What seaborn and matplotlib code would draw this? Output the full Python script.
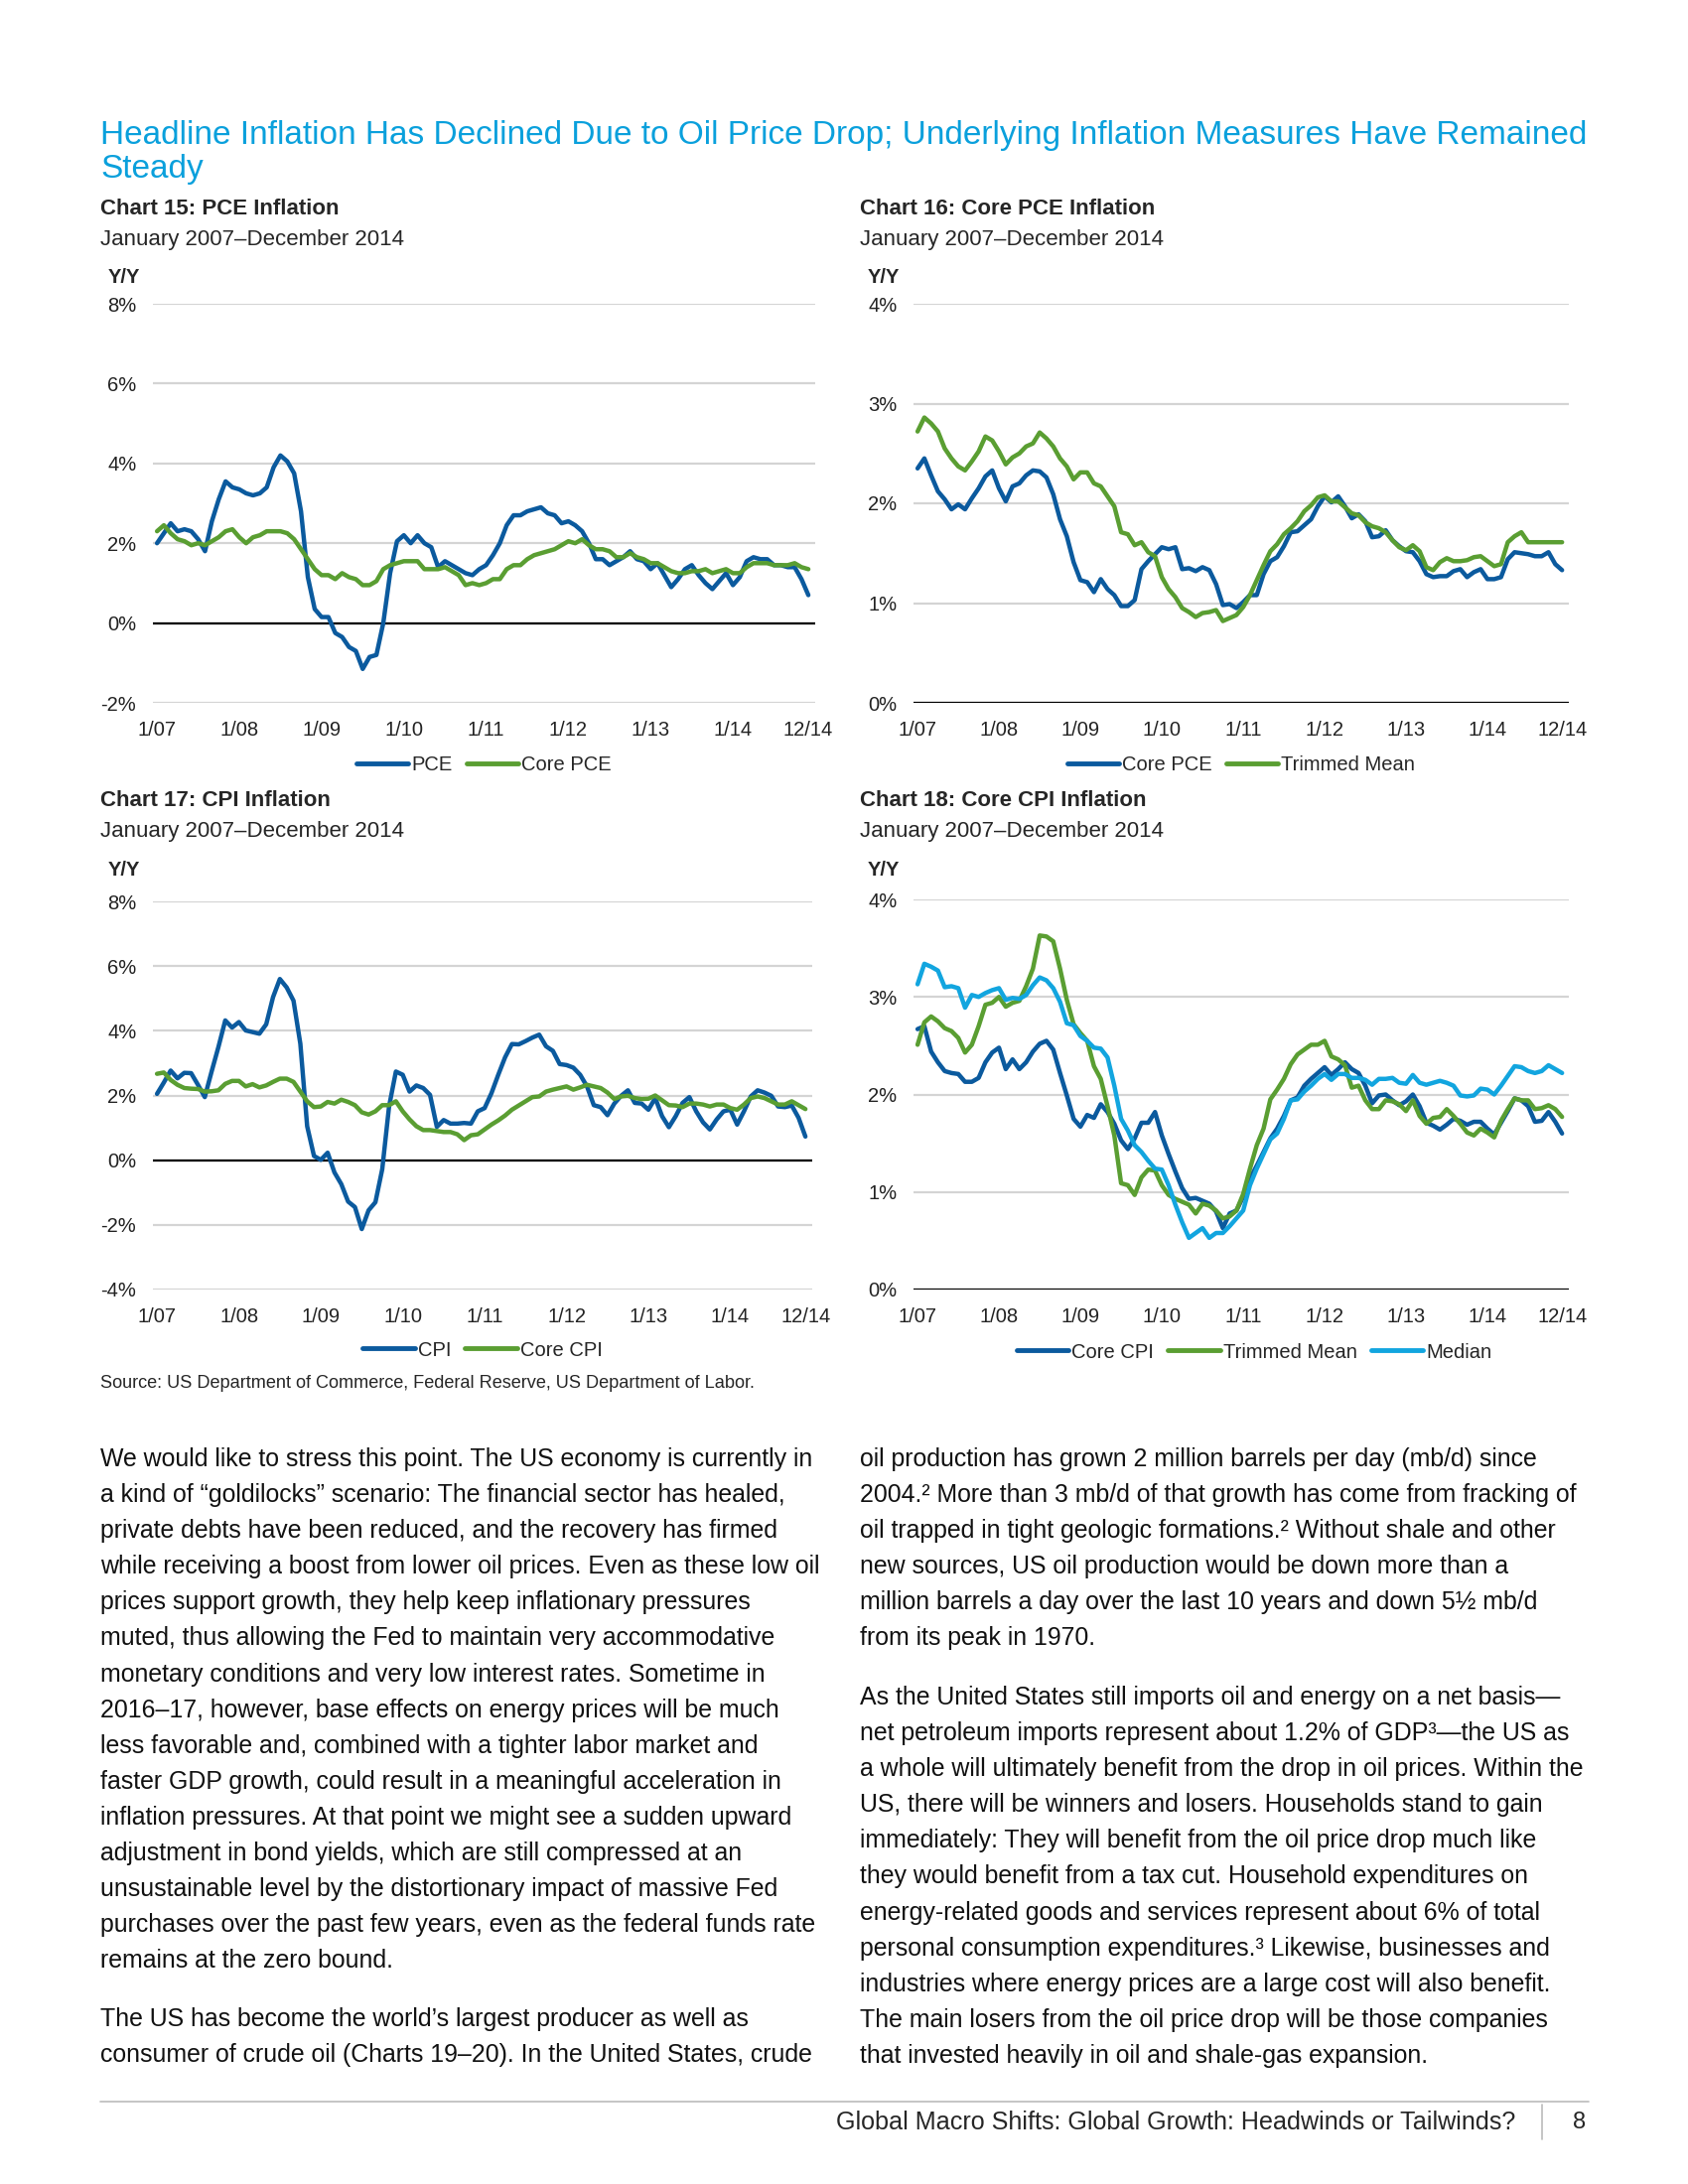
import numpy as np
import pandas as pd
import matplotlib.pyplot as plt
import seaborn as sns
from matplotlib import font_manager

sns.set_style("white")

installed = {f.name for f in font_manager.fontManager.ttflist}
NARROW = "Liberation Sans Narrow" if "Liberation Sans Narrow" in installed else "Liberation Sans"
plt.rcParams["font.family"] = ["Liberation Sans", "DejaVu Sans"]

W, H = 1700, 2200

DARK = "#0b5a9e"
GREEN = "#5a9e32"
LIGHT = "#12a5df"
TITLE_BLUE = "#0aa0dc"

months = np.arange(96)
x_ticks = [0, 12, 24, 36, 48, 60, 72, 84, 95]
x_labels = ["1/07", "1/08", "1/09", "1/10", "1/11", "1/12", "1/13", "1/14", "12/14"]

# Chart 15
pce = [2.0, 2.25, 2.5, 2.3, 2.35, 2.3, 2.1, 1.8, 2.55, 3.1, 3.55, 3.4,
       3.35, 3.25, 3.2, 3.25, 3.4, 3.9, 4.2, 4.05, 3.75, 2.8, 1.15, 0.35,
       0.15, 0.15, -0.25, -0.35, -0.6, -0.7, -1.15, -0.85, -0.8, 0.0, 1.25, 2.05,
       2.2, 2.0, 2.2, 2.0, 1.9, 1.4, 1.55, 1.45, 1.35, 1.25, 1.2, 1.35,
       1.45, 1.7, 2.0, 2.45, 2.7, 2.7, 2.8, 2.85, 2.9, 2.75, 2.7, 2.5,
       2.55, 2.45, 2.3, 2.0, 1.6, 1.6, 1.45, 1.55, 1.65, 1.8, 1.6, 1.55,
       1.35, 1.5, 1.2, 0.9, 1.1, 1.35, 1.45, 1.2, 1.0, 0.85, 1.05, 1.25,
       0.95, 1.15, 1.55, 1.65, 1.6, 1.6, 1.45, 1.45, 1.4, 1.4, 1.1, 0.7]
core_pce = [2.3, 2.45, 2.25, 2.1, 2.05, 1.95, 2.0, 1.95, 2.05, 2.15, 2.3, 2.35,
            2.15, 2.0, 2.15, 2.2, 2.3, 2.3, 2.3, 2.25, 2.1, 1.85, 1.6, 1.35,
            1.2, 1.2, 1.1, 1.25, 1.15, 1.1, 0.95, 0.95, 1.05, 1.35, 1.45, 1.5,
            1.55, 1.55, 1.55, 1.35, 1.35, 1.35, 1.4, 1.3, 1.2, 0.95, 1.0, 0.95,
            1.0, 1.1, 1.1, 1.35, 1.45, 1.45, 1.6, 1.7, 1.75, 1.8, 1.85, 1.95,
            2.05, 2.0, 2.1, 1.95, 1.85, 1.85, 1.8, 1.65, 1.65, 1.75, 1.65, 1.6,
            1.5, 1.5, 1.4, 1.3, 1.25, 1.25, 1.3, 1.3, 1.35, 1.25, 1.3, 1.35,
            1.25, 1.25, 1.4, 1.5, 1.5, 1.5, 1.45, 1.45, 1.45, 1.5, 1.4, 1.35]

# Chart 16
core_pce_16 = [2.35, 2.45, 2.28, 2.12, 2.04, 1.94, 1.99, 1.94, 2.05, 2.15, 2.27, 2.33,
               2.15, 2.02, 2.17, 2.2, 2.28, 2.33, 2.32, 2.26, 2.09, 1.84, 1.67, 1.41,
               1.23, 1.21, 1.11, 1.24, 1.14, 1.08, 0.97, 0.97, 1.03, 1.34, 1.42, 1.49,
               1.56, 1.54, 1.56, 1.34, 1.35, 1.32, 1.36, 1.33, 1.19, 0.98, 0.99, 0.95,
               1.01, 1.08, 1.08, 1.29, 1.42, 1.46, 1.57, 1.71, 1.72, 1.78, 1.84, 1.97,
               2.07, 2.01, 2.07, 1.97, 1.85, 1.89, 1.82, 1.66, 1.67, 1.73, 1.63, 1.57,
               1.52, 1.51, 1.42, 1.29, 1.26, 1.27, 1.27, 1.32, 1.34, 1.26, 1.31, 1.34,
               1.24, 1.24, 1.26, 1.44, 1.51, 1.5, 1.49, 1.47, 1.47, 1.51, 1.39, 1.33]
trimmed_pce = [2.72, 2.86, 2.8, 2.72, 2.55, 2.45, 2.37, 2.33, 2.42, 2.52, 2.67, 2.63,
               2.52, 2.39, 2.46, 2.5, 2.57, 2.6, 2.71, 2.65, 2.57, 2.45, 2.37, 2.24,
               2.31, 2.31, 2.2, 2.17, 2.07, 1.97, 1.71, 1.69, 1.58, 1.61, 1.51, 1.47,
               1.26, 1.14, 1.06, 0.95, 0.91, 0.86, 0.9, 0.91, 0.93, 0.82, 0.85, 0.88,
               0.96, 1.08, 1.23, 1.38, 1.52, 1.59, 1.69, 1.75, 1.82, 1.92, 1.98, 2.06,
               2.08, 2.02, 2.02, 1.96, 1.9, 1.88, 1.81, 1.77, 1.75, 1.71, 1.63, 1.56,
               1.53, 1.58, 1.52, 1.36, 1.33, 1.41, 1.45, 1.42, 1.42, 1.43, 1.46, 1.47,
               1.42, 1.37, 1.39, 1.61, 1.67, 1.71, 1.61, 1.61, 1.61, 1.61, 1.61, 1.61]

# Chart 17
cpi = [2.05, 2.4, 2.77, 2.53, 2.7, 2.69, 2.33, 1.95, 2.74, 3.5, 4.32, 4.1,
       4.27, 4.01, 3.96, 3.91, 4.2, 5.04, 5.6, 5.34, 4.93, 3.6, 1.05, 0.13,
       0.01, 0.23, -0.38, -0.74, -1.28, -1.45, -2.13, -1.55, -1.3, -0.28, 1.66, 2.74,
       2.64, 2.12, 2.31, 2.23, 2.02, 1.03, 1.24, 1.13, 1.13, 1.15, 1.13, 1.51,
       1.61, 2.07, 2.64, 3.18, 3.59, 3.58, 3.68, 3.79, 3.88, 3.52, 3.38, 2.97,
       2.94, 2.86, 2.64, 2.28, 1.7, 1.64, 1.39, 1.75, 1.99, 2.16, 1.77, 1.75,
       1.56, 1.92, 1.36, 1.02, 1.36, 1.77, 1.95, 1.51, 1.17, 0.95, 1.26, 1.51,
       1.56, 1.1, 1.51, 1.97, 2.16, 2.09, 1.99, 1.66, 1.64, 1.69, 1.31, 0.73]
core_cpi = [2.67, 2.71, 2.48, 2.33, 2.23, 2.21, 2.2, 2.12, 2.13, 2.16, 2.36, 2.45,
            2.45, 2.28, 2.35, 2.25, 2.31, 2.42, 2.52, 2.52, 2.42, 2.12, 1.82, 1.64,
            1.66, 1.8, 1.75, 1.87, 1.8, 1.7, 1.48, 1.41, 1.51, 1.7, 1.7, 1.82,
            1.51, 1.26, 1.05, 0.93, 0.93, 0.9, 0.87, 0.87, 0.8, 0.62, 0.77, 0.8,
            0.95, 1.1, 1.23, 1.38, 1.56, 1.69, 1.82, 1.95, 1.97, 2.12, 2.18, 2.23,
            2.28, 2.18, 2.25, 2.33, 2.28, 2.23, 2.09, 1.89, 1.97, 1.99, 1.92, 1.89,
            1.9, 2.0, 1.85, 1.7, 1.69, 1.64, 1.75, 1.75, 1.72, 1.66, 1.72, 1.72,
            1.61, 1.56, 1.72, 1.92, 1.97, 1.92, 1.82, 1.72, 1.72, 1.82, 1.7, 1.58]

# Chart 18
core_cpi_18 = [2.67, 2.7, 2.44, 2.33, 2.24, 2.22, 2.21, 2.13, 2.13, 2.17, 2.33, 2.43,
               2.48, 2.26, 2.36, 2.26, 2.33, 2.44, 2.52, 2.55, 2.46, 2.22, 1.99, 1.75,
               1.67, 1.79, 1.76, 1.9, 1.82, 1.7, 1.53, 1.44, 1.55, 1.71, 1.71, 1.82,
               1.58, 1.39, 1.21, 1.04, 0.93, 0.94, 0.91, 0.88, 0.8, 0.63, 0.78, 0.81,
               0.95, 1.14, 1.27, 1.41, 1.55, 1.65, 1.78, 1.94, 1.97, 2.09, 2.16, 2.22,
               2.28, 2.2, 2.26, 2.33, 2.26, 2.22, 2.09, 1.91, 1.99, 2.0, 1.94, 1.89,
               1.93, 2.0, 1.88, 1.71, 1.68, 1.64, 1.69, 1.75, 1.73, 1.69, 1.72, 1.72,
               1.65, 1.59, 1.71, 1.83, 1.96, 1.94, 1.88, 1.72, 1.73, 1.82, 1.72, 1.6]
trimmed_cpi = [2.51, 2.74, 2.8, 2.75, 2.68, 2.65, 2.58, 2.43, 2.51, 2.7, 2.92, 2.94,
               3.0, 2.9, 2.94, 2.96, 3.11, 3.29, 3.63, 3.62, 3.57, 3.29, 2.97, 2.72,
               2.63, 2.55, 2.29, 2.16, 1.88, 1.58, 1.09, 1.07, 0.97, 1.15, 1.23, 1.22,
               1.07, 0.97, 0.93, 0.9, 0.87, 0.78, 0.88, 0.86, 0.81, 0.73, 0.75, 0.81,
               0.98, 1.24, 1.48, 1.65, 1.95, 2.05, 2.16, 2.31, 2.41, 2.46, 2.51, 2.51,
               2.55, 2.39, 2.36, 2.3, 2.07, 2.09, 1.94, 1.85, 1.85, 1.94, 1.93, 1.9,
               1.83, 1.94, 1.78, 1.7, 1.76, 1.77, 1.85, 1.78, 1.7, 1.61, 1.58, 1.65,
               1.61, 1.56, 1.73, 1.85, 1.96, 1.94, 1.94, 1.85, 1.86, 1.89, 1.85, 1.77]
median_cpi = [3.13, 3.34, 3.31, 3.27, 3.1, 3.11, 3.09, 2.89, 3.02, 3.0, 3.04, 3.07,
              3.09, 2.97, 2.99, 2.98, 3.02, 3.12, 3.2, 3.17, 3.09, 2.95, 2.73, 2.71,
              2.6, 2.55, 2.48, 2.47, 2.38, 2.09, 1.75, 1.63, 1.48, 1.41, 1.32, 1.24,
              1.23, 1.07, 0.87, 0.69, 0.53, 0.58, 0.63, 0.53, 0.58, 0.58, 0.65, 0.73,
              0.81, 1.07, 1.24, 1.39, 1.54, 1.6, 1.75, 1.94, 1.95, 2.03, 2.09, 2.16,
              2.21, 2.15, 2.21, 2.21, 2.17, 2.17, 2.15, 2.1, 2.16, 2.16, 2.17, 2.12,
              2.11, 2.2, 2.12, 2.1, 2.12, 2.14, 2.12, 2.09, 1.99, 1.98, 1.99, 2.06,
              2.05, 2.0, 2.09, 2.19, 2.29, 2.28, 2.24, 2.22, 2.24, 2.3, 2.26, 2.22]

for s in [pce, core_pce, core_pce_16, trimmed_pce, cpi, core_cpi,
          core_cpi_18, trimmed_cpi, median_cpi]:
    assert len(s) == 96


def px_box(x0, y0, x1, y1):
    return [x0 / W, 1 - y1 / H, (x1 - x0) / W, (y1 - y0) / H]


def put(x, y, s, **kw):
    fig.text(x / W, 1 - y / H, s, **kw)


def chart(box, series, colors, labels, yticks, legend_y, legend_dx=0):
    x0, y0, x1, y1 = box
    ax = fig.add_axes(px_box(x0, y0, x1, y1))
    for vals, col, lab in zip(series, colors, labels):
        sns.lineplot(x=months, y=vals, ax=ax, color=col, lw=3.2, label=lab)
    ax.set_xlim(-0.6, 96.0)
    ax.set_ylim(yticks[0], yticks[-1])
    ax.set_yticks(yticks)
    ax.set_yticklabels([f"{t}%" for t in yticks], fontfamily=NARROW, fontsize=14.5)
    ax.set_xticks(x_ticks)
    ax.set_xticklabels(x_labels, fontfamily=NARROW, fontsize=14.5)
    ax.tick_params(length=0, axis="y", pad=12, colors="#222222")
    ax.tick_params(length=0, axis="x", pad=13, colors="#222222")
    ax.grid(axis="y", color="#d4d4d4", lw=1.6)
    ax.grid(axis="x", visible=False)
    ax.axhline(0, color="black", lw=1.6, zorder=1.5)
    ax.set_xlabel("")
    ax.set_ylabel("")
    sns.despine(ax=ax, left=True, bottom=True)
    yfrac = -(legend_y - y1) / (y1 - y0)
    ax.legend(loc="center", bbox_to_anchor=(0.5 + legend_dx, yfrac), ncol=len(labels),
              frameon=False, handlelength=2.6, handletextpad=0.15, columnspacing=0.7,
              prop={"family": NARROW, "size": 14.5})
    for line in ax.get_legend().get_lines():
        line.set_linewidth(3.5)
    return ax


fig = plt.figure(figsize=(W / 100, H / 100), dpi=100)

# heading
put(101, 136, "Headline Inflation Has Declined Due to Oil Price Drop; Underlying Inflation Measures Have Remained",
    color=TITLE_BLUE, fontsize=24, va="center")
put(101, 170, "Steady", color=TITLE_BLUE, fontsize=24, va="center")

# chart headers
headers = [
    (101, 211, "Chart 15: PCE Inflation"),
    (866, 211, "Chart 16: Core PCE Inflation"),
    (101, 807, "Chart 17: CPI Inflation"),
    (866, 807, "Chart 18: Core CPI Inflation"),
]
for hx, hy, htxt in headers:
    put(hx, hy, htxt, fontsize=16, fontweight="bold", va="center")
    put(hx, hy + 31, "January 2007\u2013December 2014", fontsize=16, va="center")
    put(hx + 8, hy + 69, "Y/Y", fontsize=14.5, fontweight="bold", fontfamily=NARROW, va="center")

chart((154, 306, 821, 708), [pce, core_pce], [DARK, GREEN], ["PCE", "Core PCE"],
      [-2, 0, 2, 4, 6, 8], 771)
chart((920, 306, 1580, 708), [core_pce_16, trimmed_pce], [DARK, GREEN], ["Core PCE", "Trimmed Mean"],
      [0, 1, 2, 3, 4], 771)
chart((154, 908, 818, 1299), [cpi, core_cpi], [DARK, GREEN], ["CPI", "Core CPI"],
      [-4, -2, 0, 2, 4, 6, 8], 1360)
chart((920, 906, 1580, 1299), [core_cpi_18, trimmed_cpi, median_cpi], [DARK, GREEN, LIGHT],
      ["Core CPI", "Trimmed Mean", "Median"], [0, 1, 2, 3, 4], 1362, legend_dx=0.02)

put(101, 1393, "Source: US Department of Commerce, Federal Reserve, US Department of Labor.",
    fontsize=13.1, fontfamily=NARROW, va="center")

left_col = [
    "We would like to stress this point. The US economy is currently in",
    "a kind of \u201cgoldilocks\u201d scenario: The financial sector has healed,",
    "private debts have been reduced, and the recovery has firmed",
    "while receiving a boost from lower oil prices. Even as these low oil",
    "prices support growth, they help keep inflationary pressures",
    "muted, thus allowing the Fed to maintain very accommodative",
    "monetary conditions and very low interest rates. Sometime in",
    "2016\u201317, however, base effects on energy prices will be much",
    "less favorable and, combined with a tighter labor market and",
    "faster GDP growth, could result in a meaningful acceleration in",
    "inflation pressures. At that point we might see a sudden upward",
    "adjustment in bond yields, which are still compressed at an",
    "unsustainable level by the distortionary impact of massive Fed",
    "purchases over the past few years, even as the federal funds rate",
    "remains at the zero bound.",
]
left_col2 = [
    "The US has become the world\u2019s largest producer as well as",
    "consumer of crude oil (Charts 19\u201320). In the United States, crude",
]
right_col = [
    "oil production has grown 2 million barrels per day (mb/d) since",
    "2004.\u00b2 More than 3 mb/d of that growth has come from fracking of",
    "oil trapped in tight geologic formations.\u00b2 Without shale and other",
    "new sources, US oil production would be down more than a",
    "million barrels a day over the last 10 years and down 5\u00bd mb/d",
    "from its peak in 1970.",
]
right_col2 = [
    "As the United States still imports oil and energy on a net basis\u2014",
    "net petroleum imports represent about 1.2% of GDP\u00b3\u2014the US as",
    "a whole will ultimately benefit from the drop in oil prices. Within the",
    "US, there will be winners and losers. Households stand to gain",
    "immediately: They will benefit from the oil price drop much like",
    "they would benefit from a tax cut. Household expenditures on",
    "energy-related goods and services represent about 6% of total",
    "personal consumption expenditures.\u00b3 Likewise, businesses and",
    "industries where energy prices are a large cost will also benefit.",
    "The main losers from the oil price drop will be those companies",
    "that invested heavily in oil and shale-gas expansion.",
]

step = 36.1
for block, bx, by in [(left_col, 101, 1470), (left_col2, 101, 2034),
                      (right_col, 866, 1470), (right_col2, 866, 1710)]:
    for i, line in enumerate(block):
        put(bx, by + i * step, line, fontsize=17.9, va="center", color="#111111")

# footer
fig.add_artist(plt.Line2D([101 / W, 1600 / W], [1 - 2117 / H, 1 - 2117 / H], color="#bbbbbb", lw=1.2))
fig.add_artist(plt.Line2D([1553 / W, 1553 / W], [1 - 2120 / H, 1 - 2155 / H], color="#bbbbbb", lw=1.2))
put(1526, 2138, "Global Macro Shifts: Global Growth: Headwinds or Tailwinds?", fontsize=18.1,
    ha="right", va="center")
put(1591, 2138, "8", fontsize=17, ha="center", va="center")

fig.savefig("out.png", dpi=100)
